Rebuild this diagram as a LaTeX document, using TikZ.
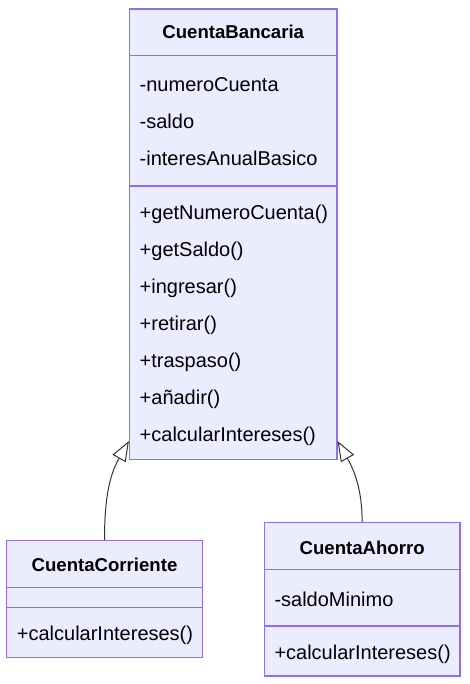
\documentclass[tikz,border=0pt]{standalone}
\usepackage{fontspec}
\setmainfont{Liberation Sans}
\usetikzlibrary{arrows.meta,positioning}
\definecolor{umlfill}{HTML}{ECECFF}
\definecolor{umlline}{HTML}{9370DB}
\definecolor{umlarrow}{HTML}{333333}
\begin{document}
\begin{tikzpicture}[x=1pt,y=1pt,
  box/.style = {draw=umlline, fill=umlfill, line width=1.2pt, inner sep=0pt},
  sep/.style = {draw=umlline, line width=1.2pt},
  title/.style = {font=\fontsize{18.6}{22}\selectfont\bfseries, text height=13.4pt, text depth=0pt, inner sep=0pt},
  member/.style = {font=\fontsize{20}{24}\selectfont, text height=14.4pt, text depth=0pt, inner sep=0pt, align=left},
  inherit/.style = {draw=umlarrow, line width=1pt, -{Triangle[open,length=20pt,width=15pt]}},
  node distance={37pt}]
\useasboundingbox (0,0) rectangle (469,-684);
% CuentaBancaria
\node[box, minimum width=207.5pt, minimum height=450.5pt] (cb) at (233.25,-234.25) {};
\node[title] (cbname) at (233.25,-31.6) {CuentaBancaria};
\draw[sep] (129.5,-55.3) -- (337,-55.3);
\draw[sep] (129.5,-186) -- (337,-186);
\node[member, text width=187.5pt, anchor=west] (cba1) at (139.5,-84.5) {-numeroCuenta};
\node[member, text width=187.5pt] (cba2) [below of=cba1] {-saldo};
\node[member, text width=187.5pt] (cba3) [below of=cba2] {-interesAnualBasico};
\node[member, text width=187.5pt, anchor=west] (cbm1) at (139.5,-212.3) {+getNumeroCuenta()};
\node[member, text width=187.5pt] (cbm2) [below of=cbm1] {+getSaldo()};
\node[member, text width=187.5pt] (cbm3) [below of=cbm2] {+ingresar()};
\node[member, text width=187.5pt] (cbm4) [below of=cbm3] {+retirar()};
\node[member, text width=187.5pt] (cbm5) [below of=cbm4] {+traspaso()};
\node[member, text width=187.5pt] (cbm6) [below of=cbm5] {+añadir()};
\node[member, text width=187.5pt] (cbm7) [below of=cbm6] {+calcularIntereses()};
% CuentaCorriente
\node[box, minimum width=195.6pt, minimum height=117pt] (cc) at (104.5,-599.2) {};
\node[title] (ccname) at (104.5,-565) {CuentaCorriente};
\draw[sep] (6.7,-587.7) -- (202.3,-587.7);
\draw[sep] (6.7,-607.7) -- (202.3,-607.7);
\node[member, anchor=west] (ccm1) at (16.7,-632.8) {+calcularIntereses()};
% CuentaAhorro
\node[box, minimum width=195.7pt, minimum height=153.3pt] (ca) at (362.15,-599.35) {};
\node[title] (caname) at (362.15,-547.3) {CuentaAhorro};
\draw[sep] (264.3,-569.7) -- (460,-569.7);
\draw[sep] (264.3,-626) -- (460,-626);
\node[member, anchor=west] (caa1) at (274.3,-598.8) {-saldoMinimo};
\node[member, anchor=west] (cam1) at (274.3,-652.1) {+calcularIntereses()};
% herencia
\coordinate (cbL) at ([yshift=19pt]cb.south west);
\coordinate (cbR) at ([yshift=19pt]cb.south east);
\draw[inherit] (cc.north) .. controls +(0,50) and +(-17,-30) .. (cbL);
\draw[inherit] (ca.north) .. controls +(0,32) and +(17,-30) .. (cbR);
\end{tikzpicture}
\end{document}
